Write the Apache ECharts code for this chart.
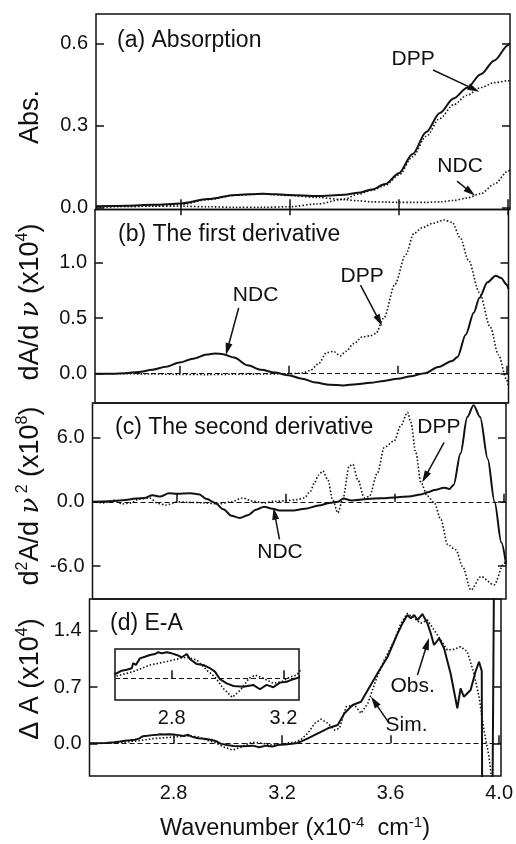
<!DOCTYPE html>
<html>
<head>
<meta charset="utf-8">
<script src="https://cdn.jsdelivr.net/npm/echarts@6/dist/echarts.min.js"></script>
<style>
  html, body { margin: 0; padding: 0; background: #fff; }
  #chart { width: 516px; height: 844px; }
</style>
</head>
<body>
<div id="chart"></div>
<script>
// Wavenumber axis shared by the four stacked panels (x10^4 cm^-1)
const xMin = 2.49, xMax = 4.007;
const xTickValues = [2.8, 3.2, 3.6, 4.0];
const insetXMin = 2.597, insetXMax = 3.256;
const insetTickValues = [2.8, 3.2];

// (a) Absorption
const absX   = [2.49, 2.6, 2.7, 2.8, 2.9, 3.0, 3.1, 3.2, 3.3, 3.4, 3.45, 3.5, 3.55, 3.6, 3.65, 3.7, 3.75, 3.8, 3.85, 3.9, 3.95, 4.0, 4.007];
const absSum = [0.004, 0.006, 0.009, 0.014, 0.03, 0.045, 0.05, 0.045, 0.041, 0.046, 0.053, 0.065, 0.085, 0.125, 0.195, 0.275, 0.345, 0.398, 0.437, 0.487, 0.537, 0.593, 0.6];
const absDPP = [0.002, 0.003, 0.004, 0.004, 0.002, 0.0, 0.0, 0.002, 0.012, 0.03, 0.048, 0.062, 0.08, 0.118, 0.185, 0.26, 0.325, 0.375, 0.41, 0.438, 0.456, 0.463, 0.463];
const absNDC = [0.002, 0.003, 0.005, 0.01, 0.028, 0.044, 0.049, 0.043, 0.036, 0.028, 0.024, 0.02, 0.019, 0.018, 0.018, 0.018, 0.02, 0.025, 0.034, 0.05, 0.085, 0.132, 0.137];
const absTicks = [0.0, 0.3, 0.6];

// (b) First derivative
const d1NdcX = [2.49, 2.55, 2.6, 2.65, 2.7, 2.75, 2.8, 2.85, 2.9, 2.93, 2.96, 3.0, 3.05, 3.1, 3.15, 3.2, 3.25, 3.3, 3.35, 3.4, 3.45, 3.5, 3.55, 3.6, 3.65, 3.7, 3.75, 3.8, 3.82, 3.85, 3.88, 3.9, 3.93, 3.96, 3.98, 4.0, 4.007];
const d1Ndc  = [0.0, 0.0, 0.005, 0.015, 0.035, 0.062, 0.1, 0.135, 0.172, 0.182, 0.175, 0.145, 0.075, 0.035, 0.01, -0.015, -0.045, -0.08, -0.1, -0.105, -0.095, -0.082, -0.065, -0.045, -0.022, 0.005, 0.06, 0.115, 0.15, 0.35, 0.55, 0.68, 0.82, 0.88, 0.86, 0.8, 0.76];
const d1DppX = [2.49, 2.6, 2.7, 2.8, 2.9, 3.0, 3.1, 3.2, 3.25, 3.28, 3.31, 3.34, 3.365, 3.39, 3.41, 3.44, 3.47, 3.5, 3.52, 3.55, 3.59, 3.63, 3.66, 3.69, 3.73, 3.77, 3.8, 3.83, 3.86, 3.9, 3.94, 3.97, 4.0, 4.007];
const d1Dpp  = [0.0, 0.0, -0.003, -0.006, -0.008, -0.005, -0.003, 0.0, 0.005, 0.03, 0.09, 0.19, 0.2, 0.16, 0.2, 0.27, 0.33, 0.34, 0.36, 0.5, 0.8, 1.07, 1.26, 1.31, 1.35, 1.38, 1.36, 1.22, 1.02, 0.73, 0.42, 0.17, -0.05, -0.12];
const d1Ticks = [0.0, 0.5, 1.0];

// (c) Second derivative
const d2NdcX = [2.49, 2.55, 2.6, 2.65, 2.68, 2.71, 2.74, 2.77, 2.8, 2.85, 2.88, 2.91, 2.94, 2.97, 3.0, 3.03, 3.06, 3.09, 3.12, 3.15, 3.18, 3.22, 3.27, 3.32, 3.36, 3.39, 3.41, 3.44, 3.5, 3.55, 3.61, 3.65, 3.695, 3.72, 3.745, 3.78, 3.8, 3.815, 3.84, 3.865, 3.888, 3.912, 3.94, 3.965, 3.99, 4.007];
const d2Ndc  = [0.0, 0.05, 0.15, 0.3, 0.35, 0.6, 0.5, 0.8, 0.75, 0.8, 0.7, 0.25, -0.1, -0.7, -1.3, -1.5, -1.25, -0.75, -0.45, -0.65, -0.82, -0.82, -0.65, -0.35, -0.1, 0.0, 0.3, 0.12, 0.27, 0.33, 0.43, 0.5, 0.68, 0.88, 1.1, 1.32, 1.2, 1.6, 4.5, 7.9, 9.0, 7.9, 4.0, 0.0, -3.8, -5.8];
const d2DppX = [2.49, 2.53, 2.57, 2.6, 2.63, 2.66, 2.7, 2.73, 2.76, 2.8, 2.85, 2.9, 2.95, 3.0, 3.04, 3.08, 3.12, 3.16, 3.2, 3.24, 3.267, 3.29, 3.304, 3.32, 3.335, 3.353, 3.371, 3.39, 3.408, 3.432, 3.445, 3.463, 3.487, 3.505, 3.536, 3.56, 3.597, 3.621, 3.646, 3.658, 3.676, 3.695, 3.719, 3.744, 3.768, 3.793, 3.823, 3.848, 3.878, 3.915, 3.963, 4.0, 4.007];
const d2Dpp  = [0.0, -0.1, 0.15, -0.2, -0.1, 0.25, 0.35, -0.15, -0.3, 0.0, -0.05, -0.1, -0.2, 0.0, 0.35, 0.05, -0.1, 0.05, 0.1, 0.2, 0.37, 1.0, 1.78, 2.5, 2.87, 2.09, 0.22, -1.03, 0.22, 3.34, 3.5, 2.09, 0.37, 0.5, 2.72, 5.06, 5.68, 7.09, 8.34, 7.4, 4.59, 1.78, 0.53, -0.1, -1.66, -4.0, -4.47, -6.04, -8.22, -6.97, -7.75, -5.72, -5.6];
const d2Ticks = [-6.0, 0.0, 6.0];

// (d) Electroabsorption, observed and simulated
const eaObsX = [2.49, 2.55, 2.58, 2.603, 2.621, 2.639, 2.657, 2.662, 2.672, 2.686, 2.704, 2.722, 2.74, 2.752, 2.764, 2.782, 2.8, 2.818, 2.836, 2.854, 2.866, 2.89, 2.913, 2.937, 2.955, 2.973, 2.997, 3.021, 3.057, 3.092, 3.116, 3.14, 3.164, 3.188, 3.212, 3.236, 3.256, 3.275, 3.295, 3.332, 3.369, 3.405, 3.43, 3.46, 3.491, 3.516, 3.552, 3.589, 3.626, 3.644, 3.662, 3.674, 3.687, 3.699, 3.717, 3.736, 3.748, 3.76, 3.779, 3.797, 3.821, 3.846, 3.858, 3.87, 3.895, 3.913, 3.926, 3.936, 3.938, 3.975, 3.982];
const eaObs  = [0.0, 0.005, 0.012, 0.022, 0.033, 0.037, 0.044, 0.066, 0.058, 0.087, 0.094, 0.102, 0.106, 0.114, 0.109, 0.114, 0.109, 0.102, 0.092, 0.106, 0.083, 0.062, 0.058, 0.044, 0.029, -0.004, -0.022, -0.034, -0.037, -0.029, -0.048, -0.029, -0.039, -0.019, -0.015, -0.004, 0.004, 0.03, 0.062, 0.125, 0.187, 0.228, 0.374, 0.477, 0.518, 0.664, 0.872, 1.078, 1.37, 1.494, 1.598, 1.557, 1.598, 1.535, 1.61, 1.494, 1.37, 1.224, 1.308, 1.183, 0.872, 0.436, 0.685, 0.58, 0.664, 0.892, 1.016, 0.9, -1.0, -1.0, 2.5];
const eaSimX = [2.49, 2.55, 2.603, 2.662, 2.722, 2.782, 2.83, 2.854, 2.89, 2.925, 2.955, 2.985, 3.017, 3.047, 3.077, 3.1, 3.128, 3.164, 3.194, 3.224, 3.248, 3.27, 3.295, 3.32, 3.344, 3.369, 3.393, 3.412, 3.436, 3.467, 3.491, 3.516, 3.546, 3.577, 3.614, 3.638, 3.662, 3.687, 3.711, 3.736, 3.76, 3.785, 3.809, 3.834, 3.858, 3.883, 3.907, 3.926, 3.944, 3.963, 3.974, 4.007];
const eaSim  = [0.0, 0.0, 0.01, 0.029, 0.058, 0.073, 0.087, 0.092, 0.08, 0.036, 0.006, -0.045, -0.083, -0.051, 0.0, 0.014, 0.0, -0.022, -0.015, 0.006, 0.014, 0.05, 0.125, 0.249, 0.3, 0.249, 0.166, 0.187, 0.456, 0.477, 0.374, 0.498, 0.788, 1.037, 1.286, 1.494, 1.619, 1.557, 1.494, 1.535, 1.411, 1.286, 1.162, 1.17, 1.203, 1.141, 0.872, 0.58, 0.166, -0.166, -0.5, -1.0];
const eaTicks = [0.0, 0.7, 1.4];

// ---------------------------------------------------------------------------
const FONT = '"Liberation Sans", Arial, Helvetica, sans-serif';
const INK = '#111';
const pairs = (xs, ys) => xs.map((x, i) => [x, ys[i]]);

const solidLine  = { color: INK, width: 2 };
const dottedLine = { color: INK, width: 1.6, type: [1.5, 2] };
const dashedZero = { color: INK, width: 1.2, type: [5, 3] };

// panel frames (slightly offset, as the panels were pasted up one by one)
const frames = [
  { left: 96,   right: 6,   top: 14,    height: 195.5 },
  { left: 95,   right: 7.5, top: 209.5, height: 193.5 },
  { left: 92.5, right: 10,  top: 403,   height: 196 },
  { left: 89.5, right: 12,  top: 599,   height: 177 }
];
const yRanges = [[-0.008, 0.707], [-0.263, 1.474], [-9.06, 9.21], [-0.407, 1.797]];
const yTicks = [absTicks, d1Ticks, d2Ticks, eaTicks];

const grids = frames.map(f => Object.assign({
  show: true, borderColor: INK, borderWidth: 1.5, backgroundColor: 'transparent'
}, f));
// inset of panel (d)
grids.push({ show: true, borderColor: INK, borderWidth: 1.5, backgroundColor: '#fff',
  left: 115, top: 649, width: 184, height: 51 });

const tickStyle = { color: INK, width: 1.5 };
const TICK_FONT = 20;

const xAxes = [];
frames.forEach((f, i) => {
  xAxes.push({
    type: 'value', gridIndex: i, min: xMin, max: xMax,
    axisLine: { show: false },
    axisTick: { show: true, inside: true, length: 8, lineStyle: tickStyle, customValues: xTickValues },
    axisLabel: { show: i === 3, customValues: xTickValues, margin: 7, fontFamily: FONT, fontSize: TICK_FONT, color: INK,
      formatter: v => v.toFixed(1) },
    splitLine: { show: false }
  });
});
// top ticks of panel (a)
xAxes.push({
  type: 'value', gridIndex: 0, position: 'top', min: xMin, max: xMax,
  axisLine: { show: false },
  axisTick: { show: true, inside: true, length: 8, lineStyle: tickStyle, customValues: xTickValues },
  axisLabel: { show: false }, splitLine: { show: false }
});
// inset x axis
xAxes.push({
  type: 'value', gridIndex: 4, min: insetXMin, max: insetXMax,
  axisLine: { show: false },
  axisTick: { show: true, inside: true, length: 8, lineStyle: tickStyle, customValues: insetTickValues },
  axisLabel: { show: true, customValues: insetTickValues, margin: 8, fontFamily: FONT, fontSize: TICK_FONT, color: INK,
    formatter: v => v.toFixed(1) },
  splitLine: { show: false }
});

const yAxes = [];
frames.forEach((f, i) => {
  yAxes.push({
    type: 'value', gridIndex: i, min: yRanges[i][0], max: yRanges[i][1],
    axisLine: { show: false },
    axisTick: { show: true, inside: true, length: 8, lineStyle: tickStyle, customValues: yTicks[i] },
    axisLabel: { show: true, customValues: yTicks[i], margin: 8, fontFamily: FONT, fontSize: TICK_FONT, color: INK,
      formatter: v => v.toFixed(1) },
    splitLine: { show: false }
  });
  yAxes.push({
    type: 'value', gridIndex: i, position: 'right', min: yRanges[i][0], max: yRanges[i][1],
    axisLine: { show: false },
    axisTick: { show: true, inside: true, length: 8, lineStyle: tickStyle, customValues: yTicks[i] },
    axisLabel: { show: false }, splitLine: { show: false }
  });
});
yAxes.push({
  type: 'value', gridIndex: 4, min: -0.095, max: 0.128,
  axisLine: { show: false }, axisTick: { show: false }, axisLabel: { show: false }, splitLine: { show: false }
});

// text callouts and arrows, positioned in data coordinates
const noteLabel = { show: true, formatter: '{b}', fontFamily: FONT, fontSize: 21, color: INK };
function notes(list) {
  return {
    silent: true, symbol: 'circle', symbolSize: 0, itemStyle: { color: 'transparent' },
    label: noteLabel,
    data: list.map(n => ({ name: n[0], coord: [n[1], n[2]] }))
  };
}
function arrows(list) {
  return {
    silent: true, symbol: ['none', 'triangle'], symbolSize: [7, 12],
    lineStyle: { color: INK, width: 1.5, type: 'solid' },
    itemStyle: { color: INK },
    label: { show: false }, emphasis: { disabled: true }, animation: false,
    data: list.map(a => [{ coord: [a[0], a[1]] }, { coord: [a[2], a[3]] }])
  };
}
const zeroLine = {
  silent: true, symbol: 'none', lineStyle: dashedZero, label: { show: false },
  emphasis: { disabled: true }, animation: false, data: [{ yAxis: 0 }]
};

function line(name, xi, yi, data, style, smooth, extra) {
  return Object.assign({
    name, type: 'line', xAxisIndex: xi, yAxisIndex: yi, data,
    showSymbol: false, symbol: 'none', lineStyle: style,
    smooth: smooth, smoothMonotone: 'x', clip: true, animation: false, silent: true
  }, extra || {});
}

const series = [
  // (a)
  line('Abs', 0, 0, pairs(absX, absSum), solidLine, 0.3, {
    markPoint: notes([['DPP', 3.652, 0.54], ['NDC', 3.824, 0.15]]),
    markLine: arrows([[3.725, 0.502, 3.875, 0.432], [3.813, 0.096, 3.862, 0.056]])
  }),
  line('Abs DPP', 0, 0, pairs(absX, absDPP), dottedLine, 0.3),
  line('Abs NDC', 0, 0, pairs(absX, absNDC), dottedLine, 0.3),
  // (b)
  line('dA NDC', 1, 2, pairs(d1NdcX, d1Ndc), solidLine, 0.3, {
    markPoint: notes([['NDC', 3.079, 0.706], ['DPP', 3.47, 0.879]]),
    markLine: arrows([[3.017, 0.59, 2.976, 0.22], [3.464, 0.796, 3.533, 0.475]])
  }),
  line('dA DPP', 1, 2, pairs(d1DppX, d1Dpp), dottedLine, 0.3, { markLine: zeroLine }),
  // (c)
  line('d2A NDC', 2, 4, pairs(d2NdcX, d2Ndc), solidLine, 0.3, {
    markPoint: notes([['DPP', 3.761, 6.96], ['NDC', 3.178, -4.7]]),
    markLine: arrows([[3.78, 5.53, 3.71, 2.3], [3.176, -3.5, 3.158, -1.1]])
  }),
  line('d2A DPP', 2, 4, pairs(d2DppX, d2Dpp), dottedLine, 0.3, { markLine: zeroLine }),
  // (d)
  line('EA Obs', 3, 6, pairs(eaObsX, eaObs), solidLine, false, {
    markPoint: notes([['Obs.', 3.681, 0.714], ['Sim.', 3.659, 0.222]]),
    markLine: arrows([[3.699, 0.85, 3.735, 1.24], [3.595, 0.249, 3.54, 0.52]])
  }),
  line('EA Sim', 3, 6, pairs(eaSimX, eaSim), dottedLine, false, { markLine: zeroLine }),
  // inset of (d)
  line('Inset Obs', 5, 8, pairs(eaObsX, eaObs), solidLine, false),
  line('Inset Sim', 5, 8, pairs(eaSimX, eaSim), dottedLine, false, { markLine: zeroLine })
];

// panel captions and axis titles
const cap = (text, x, y) => ({
  type: 'text', x, y, silent: true,
  style: { text, fontFamily: FONT, fontSize: 23, fill: INK, align: 'left', verticalAlign: 'middle' }
});
const richStyles = {
  n: { fontFamily: FONT, fontSize: 27, lineHeight: 32, fill: INK },
  g: { fontFamily: '"DejaVu Serif", serif', fontStyle: 'italic', fontSize: 26, lineHeight: 32, fill: INK },
  s: { fontFamily: FONT, fontSize: 16, lineHeight: 16, fill: INK, verticalAlign: 'top' }
};
const yTitle = (text, y) => ({
  type: 'text', x: 31, y, rotation: Math.PI / 2, silent: true,
  style: { text, rich: richStyles, align: 'center', verticalAlign: 'middle' }
});

const graphic = [
  cap('(a) Absorption', 117, 41),
  cap('(b) The first derivative', 118, 235),
  cap('(c) The second derivative', 115, 428),
  cap('(d) E-A', 110, 624),
  yTitle('{n|Abs.}', 117),
  yTitle('{n|dA/d }{g|ν}{n| (x10}{s|4}{n|)}', 302),
  yTitle('{n|d}{s|2}{n|A/d }{g|ν}{s| 2}{n| (x10}{s|8}{n|)}', 496),
  yTitle('{n|Δ A (x10}{s|4}{n|)}', 679),
  {
    type: 'text', x: 295, y: 829, silent: true,
    style: {
      text: '{n|Wavenumber (x10}{s|-4}{n|  cm}{s|-1}{n|)}',
      rich: {
        n: { fontFamily: FONT, fontSize: 23.5, lineHeight: 28, fill: INK },
        s: { fontFamily: FONT, fontSize: 15, lineHeight: 15, fill: INK, verticalAlign: 'top' }
      },
      align: 'center', verticalAlign: 'middle'
    }
  }
];

const chart = echarts.init(document.getElementById('chart'), null, { renderer: 'canvas' });
chart.setOption({
  backgroundColor: '#fff',
  animation: false,
  grid: grids,
  xAxis: xAxes,
  yAxis: yAxes,
  series,
  graphic
});
</script>
</body>
</html>
